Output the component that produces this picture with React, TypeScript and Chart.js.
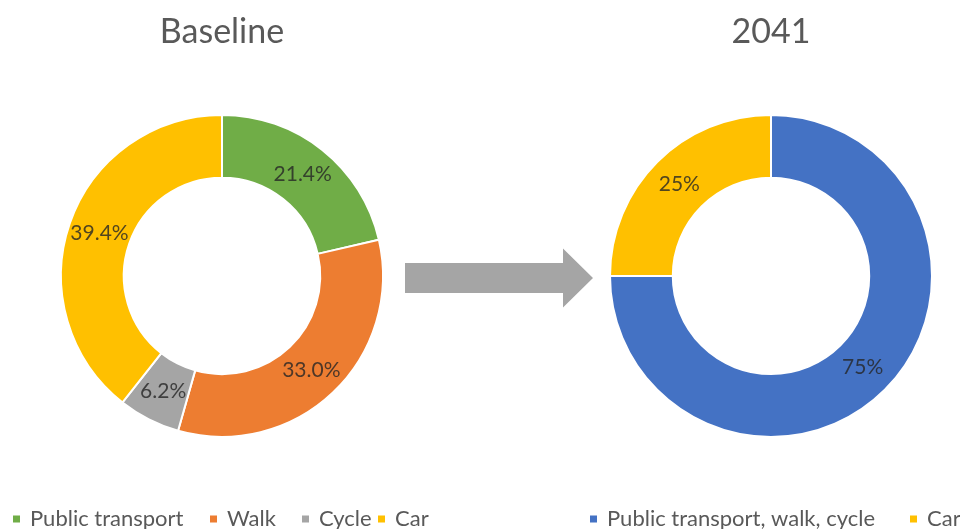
import React, { useEffect, useRef } from "react";
import { Chart, registerables } from "chart.js";

Chart.register(...registerables);

// ---- data ----
const baselineTitle = "Baseline";
const baselineLabels = ["Public transport", "Walk", "Cycle", "Car"];
const baselineValues = [21.4, 33.0, 6.2, 39.4];
const baselineColors = ["#70AD47", "#ED7D31", "#A5A5A5", "#FFC000"];

const futureTitle = "2041";
const futureLabels = ["Public transport, walk, cycle", "Car"];
const futureValues = [75, 25];
const futureColors = ["#4472C4", "#FFC000"];

// ---- style ----
const W = 960;
const H = 529;
const FONT = "Lato, 'Open Sans', sans-serif";
const TEXT = "#595959";

const sliceLabelsPlugin = {
  id: "sliceLabels",
  afterDatasetsDraw(chart: any, _args: any, opts: any) {
    const ctx = chart.ctx;
    const meta = chart.getDatasetMeta(0);
    const ds = chart.data.datasets[0];
    ctx.save();
    ctx.font = `${opts.size}px ${FONT}`;
    ctx.fillStyle = opts.color;
    ctx.textAlign = "center";
    ctx.textBaseline = "middle";
    meta.data.forEach((arc: any, i: number) => {
      const p = arc.tooltipPosition(false);
      const v = Number(ds.data[i]);
      ctx.fillText(v.toFixed(opts.decimals) + "%", p.x, p.y);
    });
    ctx.restore();
  },
};

const bottomLegendPlugin = {
  id: "bottomLegend",
  afterDraw(chart: any, _args: any, opts: any) {
    const ctx = chart.ctx;
    const labels = chart.data.labels as string[];
    const colors = chart.data.datasets[0].backgroundColor as string[];
    ctx.save();
    ctx.font = `${opts.size}px ${FONT}`;
    ctx.textAlign = "left";
    ctx.textBaseline = "middle";
    labels.forEach((l, i) => {
      const x = opts.x[i];
      ctx.fillStyle = colors[i];
      ctx.fillRect(x, opts.y - opts.box / 2, opts.box, opts.box);
      ctx.fillStyle = TEXT;
      ctx.fillText(l, x + opts.box + opts.gap, opts.y);
    });
    ctx.restore();
  },
};

const arrowPlugin = {
  id: "arrow",
  afterDraw(chart: any, _args: any, opts: any) {
    if (!opts || !opts.show) return;
    const ctx = chart.ctx;
    const { x0, x1, xt, yc, shaft, head } = opts;
    ctx.save();
    ctx.fillStyle = opts.color;
    ctx.beginPath();
    ctx.moveTo(x0, yc - shaft / 2);
    ctx.lineTo(x1, yc - shaft / 2);
    ctx.lineTo(x1, yc - head / 2);
    ctx.lineTo(xt, yc);
    ctx.lineTo(x1, yc + head / 2);
    ctx.lineTo(x1, yc + shaft / 2);
    ctx.lineTo(x0, yc + shaft / 2);
    ctx.closePath();
    ctx.fill();
    ctx.restore();
  },
};

function makeConfig(
  title: string,
  labels: string[],
  values: number[],
  colors: string[],
  padLeft: number,
  padRight: number,
  decimals: number,
  legendX: number[],
  withArrow: boolean
): any {
  return {
    type: "doughnut",
    data: {
      labels,
      datasets: [
        {
          data: values,
          backgroundColor: colors,
          borderColor: "#FFFFFF",
          borderWidth: 2,
        },
      ],
    },
    options: {
      responsive: false,
      animation: false,
      events: [],
      cutout: "61%",
      layout: { padding: { left: padLeft, right: padRight, top: 0, bottom: 91 } },
      plugins: {
        legend: { display: false },
        tooltip: { enabled: false },
        title: {
          display: true,
          text: title,
          color: TEXT,
          font: { family: FONT, size: 34, weight: "normal", lineHeight: 1.2 },
          padding: { top: 12, bottom: 61 },
        },
        sliceLabels: { size: 21, decimals, color: "rgba(38,38,38,0.8)" },
        bottomLegend: { x: legendX, y: 519, box: 7, gap: 10, size: 22 },
        arrow: {
          show: withArrow,
          color: "#A5A5A5",
          x0: 405,
          x1: 563,
          xt: 593,
          yc: 278,
          shaft: 30,
          head: 59,
        },
      },
    },
    plugins: [sliceLabelsPlugin, bottomLegendPlugin, arrowPlugin],
  };
}

export default function App() {
  const leftRef = useRef<HTMLCanvasElement>(null);
  const rightRef = useRef<HTMLCanvasElement>(null);

  useEffect(() => {
    const left = new Chart(
      leftRef.current as HTMLCanvasElement,
      makeConfig(
        baselineTitle,
        baselineLabels,
        baselineValues,
        baselineColors,
        60,
        576,
        1,
        [13, 210, 302, 378],
        true
      )
    );
    const right = new Chart(
      rightRef.current as HTMLCanvasElement,
      makeConfig(
        futureTitle,
        futureLabels,
        futureValues,
        futureColors,
        609,
        27,
        0,
        [590, 910],
        false
      )
    );
    return () => {
      left.destroy();
      right.destroy();
    };
  }, []);

  return (
    <div
      style={{
        position: "absolute",
        left: 0,
        top: 0,
        width: W,
        height: H,
        background: "#FFFFFF",
        overflow: "hidden",
      }}
    >
      <canvas
        ref={leftRef}
        width={W}
        height={H}
        style={{ position: "absolute", left: 0, top: 0, width: W, height: H }}
      />
      <canvas
        ref={rightRef}
        width={W}
        height={H}
        style={{ position: "absolute", left: 0, top: 0, width: W, height: H }}
      />
    </div>
  );
}
